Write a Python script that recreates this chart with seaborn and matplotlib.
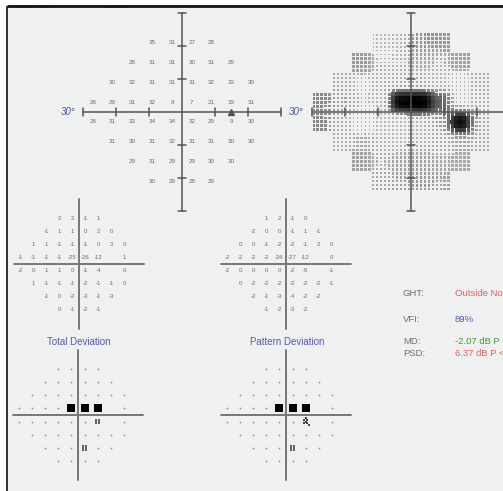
import numpy as np
import pandas as pd
import matplotlib
matplotlib.use("Agg")
import matplotlib.pyplot as plt
import seaborn as sns

sns.set_theme(style="white")
plt.rcParams["font.family"] = ["Liberation Sans", "DejaVu Sans"]

W, H, DPI = 503, 491, 100

# ---- 24-2 test results (right eye), rows from superior to inferior ----
row_y = [21, 15, 9, 3, -3, -9, -15, -21]

threshold_rows = [
    [35, 31, 27, 28],
    [28, 31, 31, 30, 31, 29],
    [30, 32, 31, 31, 31, 32, 33, 30],
    [26, 29, 31, 32, 8, 7, 21, 33, 31],
    [26, 31, 33, 34, 34, 32, 29, 9, 30],
    [31, 30, 31, 32, 31, 31, 30, 30],
    [29, 31, 29, 29, 30, 30],
    [30, 29, 28, 29],
]

total_dev_rows = [
    [2, 2, -1, 1],
    [-1, 1, 1, 0, 2, 0],
    [1, 1, -1, -1, -1, 0, 3, 0],
    [-1, -1, -1, -1, -25, -26, -12, None, 1],
    [-2, 0, 1, 1, 0, -1, -4, None, 0],
    [1, -1, -1, -1, -2, -1, -1, 0],
    [-1, 0, -2, -3, -1, -3],
    [0, -1, -2, -1],
]

pattern_dev_rows = [
    [1, 2, -1, 0],
    [-2, 0, 0, -1, 1, -1],
    [0, 0, -1, -2, -2, -1, 2, 0],
    [-2, -2, -2, -2, -26, -27, -12, None, 0],
    [-2, 0, 0, 0, 0, -2, -5, None, -1],
    [0, -2, -2, -2, -2, -2, -2, -1],
    [-2, -1, -3, -4, -2, -2],
    [-1, -2, -3, -2],
]

# probability codes: 0 = within normal, 5 = P<5%, 2 = P<2%, 1 = P<0.5%
total_prob_rows = [
    [0, 0, 0, 0],
    [0, 0, 0, 0, 0, 0],
    [0, 0, 0, 0, 0, 0, 0, 0],
    [0, 0, 0, 0, 1, 1, 1, None, 0],
    [0, 0, 0, 0, 0, 0, 5, None, 0],
    [0, 0, 0, 0, 0, 0, 0, 0],
    [0, 0, 0, 5, 0, 0],
    [0, 0, 0, 0],
]

pattern_prob_rows = [
    [0, 0, 0, 0],
    [0, 0, 0, 0, 0, 0],
    [0, 0, 0, 0, 0, 0, 0, 0],
    [0, 0, 0, 0, 1, 1, 1, None, 0],
    [0, 0, 0, 0, 0, 0, 2, None, 0],
    [0, 0, 0, 0, 0, 0, 0, 0],
    [0, 0, 0, 5, 0, 0],
    [0, 0, 0, 0],
]

stat_labels = ["GHT:", "VFI:", "MD:", "PSD:"]
stat_values = ["Outside Normal Limits", "89%", "-2.07 dB P < 5%", "6.37 dB P < 0.5%"]
stat_colors = ["#e06060", "#5a4fc0", "#3f9a3f", "#e06060"]


def row_columns(n):
    """x positions of a 24-2 row with n points (nasal step on the left)."""
    half = {4: 9, 6: 15, 8: 21}
    if n == 9:
        return list(range(-27, 22, 6))
    return list(range(-half[n], half[n] + 1, 6))


def to_frame(rows):
    recs = []
    for y, vals in zip(row_y, rows):
        for x, v in zip(row_columns(len(vals)), vals):
            if v is not None:
                recs.append((x, y, v))
    return pd.DataFrame(recs, columns=["x", "y", "v"])


fig = plt.figure(figsize=(W / DPI, H / DPI), dpi=DPI)
fig.patch.set_facecolor("white")

# page background and border, in pixel coordinates
bg = fig.add_axes([0, 0, 1, 1])
bg.set_xlim(0, W)
bg.set_ylim(H, 0)
bg.axis("off")
bg.add_patch(plt.Rectangle((7, 6), W, H, facecolor="#eff0f0", edgecolor="none", zorder=0))
bg.text(12, 6.5, "Fovea:  OFF", fontsize=5.5, color="#9a9a9a", va="center", zorder=1)
bg.text(105, 6.5, "30 dB", fontsize=5.5, color="#4c9a3c", va="center", zorder=1)
bg.add_patch(plt.Rectangle((0, 0), W, 5.5, facecolor="white", edgecolor="none", zorder=2))
bg.plot([7, W], [6, 6], color="#111111", lw=2.0, zorder=3, solid_capstyle="butt")
bg.plot([7, 7], [6, H], color="#222222", lw=1.3, zorder=3, solid_capstyle="butt")


def field_axes(cx, cy, scale, half=30):
    w = 2 * half * scale
    ax = fig.add_axes([(cx - half * scale) / W, 1 - (cy + half * scale) / H, w / W, w / H])
    ax.set_xlim(-half, half)
    ax.set_ylim(-half, half)
    ax.axis("off")
    ax.patch.set_alpha(0)
    return ax


def cross(ax, color, lw, ticks=False, tick_len=1.2):
    ax.plot([-30, 30], [0, 0], color=color, lw=lw, clip_on=False, zorder=3)
    ax.plot([0, 0], [-30, 30], color=color, lw=lw, clip_on=False, zorder=3)
    if ticks:
        for t in (-30, -20, -10, 10, 20, 30):
            ax.plot([t, t], [-tick_len, tick_len], color=color, lw=lw, clip_on=False, zorder=3)
            ax.plot([-tick_len, tick_len], [t, t], color=color, lw=lw, clip_on=False, zorder=3)


def numbers(ax, df, size, color="#7a6a6a"):
    for _, r in df.iterrows():
        ax.text(r.x, r.y, f"{int(r.v)}", ha="center", va="center",
                fontsize=size, color=color, zorder=4)


# ---- threshold values (dB) ----
thr = to_frame(threshold_rows)
ax_t = field_axes(182, 112, 3.3)
cross(ax_t, "#5a5252", 1.1, ticks=True)
ax_t.plot([15], [0], marker="^", color="#5a5252", ms=4, clip_on=False, zorder=3)
numbers(ax_t, thr, 4.6)
ax_t.text(-34.5, 0, "30°", fontsize=7, style="italic", color="#5050a8", ha="center", va="center")
ax_t.text(34.5, 0, "30°", fontsize=7, style="italic", color="#5050a8", ha="center", va="center")

# ---- grey scale: 6° cells shaded from the measured thresholds ----
ax_g = field_axes(411, 112, 3.3)
sub = np.arange(-2.4, 2.41, 1.2)
pts = thr[["x", "y"]].to_numpy(float)
vals = thr["v"].to_numpy(float)
recs = []
for (px, py) in pts:
    for i, dx in enumerate(sub):
        for j, dy in enumerate(sub):
            gx, gy = px + dx, py + dy
            d2 = (pts[:, 0] - gx) ** 2 + (pts[:, 1] - gy) ** 2
            w = np.exp(-d2 / (2 * 2.2 ** 2))
            v = float((w * vals).sum() / w.sum())
            tone = float(np.clip((v - 9) / 23, 0, 1)) * 0.72
            dark = float(np.clip((32 - v) / 22, 0, 1))
            recs.append((gx, gy, tone, dark))
gdf = pd.DataFrame(recs, columns=["x", "y", "tone", "dark"])
sns.scatterplot(data=gdf, x="x", y="y", hue="tone", palette="gray", hue_norm=(0, 1),
                size="dark", sizes=(1.5, 12), size_norm=(0, 1), marker="s",
                linewidth=0, legend=False, ax=ax_g, zorder=2)
ax_g.axis("off")
cross(ax_g, "#5a5252", 1.1, ticks=True)
ax_g.set_xlim(-30, 30)
ax_g.set_ylim(-30, 30)


# ---- deviation numbers ----
def deviation_numbers(cx, cy, rows):
    ax = field_axes(cx, cy, 2.17)
    cross(ax, "#7a7474", 1.4)
    numbers(ax, to_frame(rows), 4.4)
    return ax


deviation_numbers(79, 264, total_dev_rows)
deviation_numbers(286, 264, pattern_dev_rows)


# ---- probability symbols ----
def prob_plot(cx, cy, rows, title):
    ax = field_axes(cx, cy, 2.17)
    cross(ax, "#7a7474", 1.4)
    df = to_frame(rows)
    dots, tiny, checks, blocks = [], [], [], []
    for _, r in df.iterrows():
        if r.v == 0:
            dots.append((r.x, r.y))
        elif r.v == 5:
            for ox in (-0.7, 0.7):
                for oy in (-0.9, 0, 0.9):
                    tiny.append((r.x + ox, r.y + oy))
        elif r.v == 2:
            for ox, oy in [(-0.9, 0.9), (0, 0), (0.9, -0.9), (0.9, 0.9), (-0.9, -0.9), (0, 1.6), (1.6, -1.6)]:
                checks.append((r.x + ox, r.y + oy))
        else:
            blocks.append((r.x, r.y))
    for pts_, s, m, c in [(dots, 1.6, "o", "#9a8e8e"), (tiny, 0.8, "s", "#6a6060"),
                          (checks, 2.5, "s", "#4a4444"), (blocks, 36, "s", "#000000")]:
        if pts_:
            p = pd.DataFrame(pts_, columns=["x", "y"])
            sns.scatterplot(data=p, x="x", y="y", s=s, marker=m, color=c,
                            linewidth=0, ax=ax, zorder=4, legend=False)
    ax.axis("off")
    ax.set_xlim(-30, 30)
    ax.set_ylim(-30, 30)
    bg.text(cx + 1, 342, title, fontsize=7, color="#5a56b8", ha="center", va="center")


prob_plot(78, 415, total_prob_rows, "Total Deviation")
prob_plot(286, 415, pattern_prob_rows, "Pattern Deviation")

# ---- global indices ----
for k, (lab, val, col) in enumerate(zip(stat_labels, stat_values, stat_colors)):
    y = [293, 319, 342, 354][k]
    bg.text(403, y, lab, fontsize=6.8, color="#707070", va="center")
    bg.text(455, y, val, fontsize=6.8, color=col, va="center")

fig.savefig("out.png", dpi=DPI)
